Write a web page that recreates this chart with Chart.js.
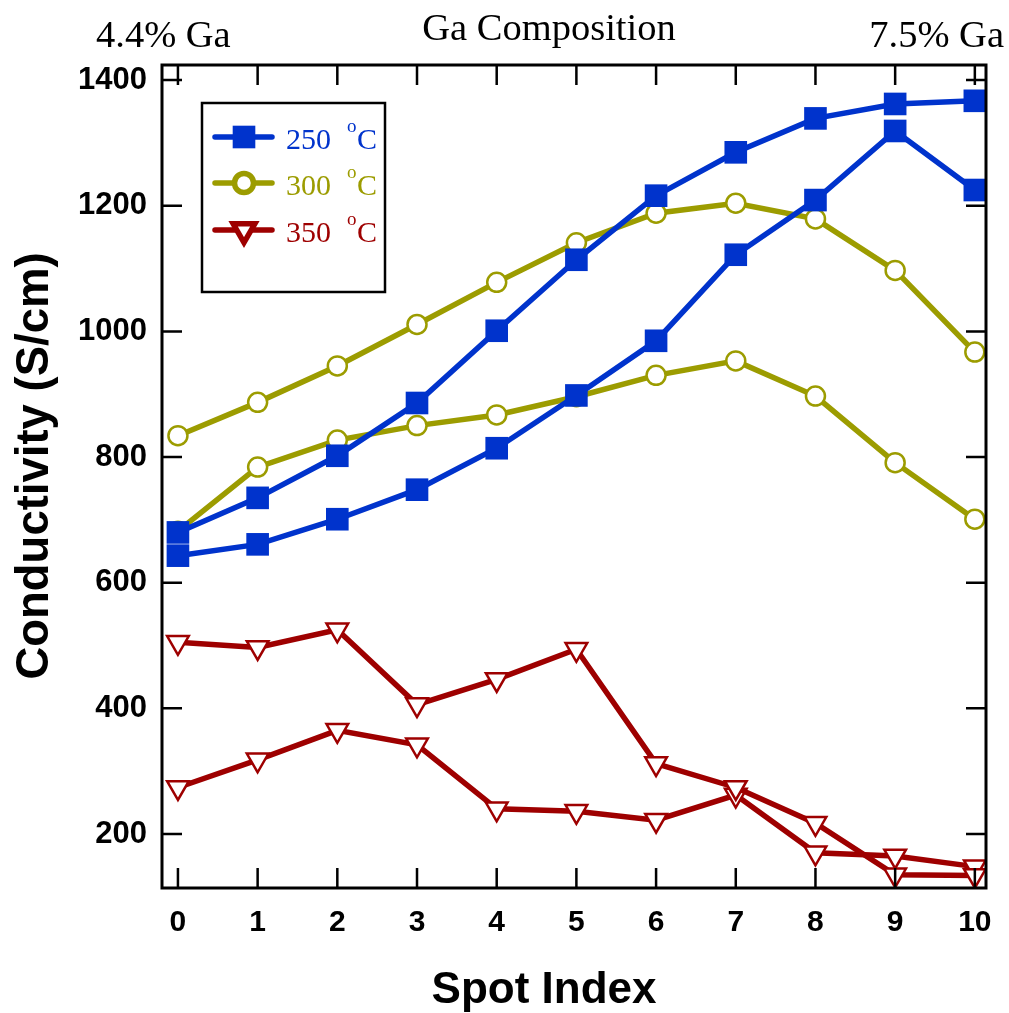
<!DOCTYPE html>
<html>
<head>
<meta charset="utf-8">
<script src="https://cdn.jsdelivr.net/npm/chart.js@4/dist/chart.umd.min.js"></script>
<style>
  html, body { margin: 0; padding: 0; background: #fff; }
  #wrap { width: 1009px; height: 1013px; position: relative; }
</style>
</head>
<body>
<div id="wrap"><canvas id="c" width="1009" height="1013"></canvas></div>
<script>
// ---- data ----
const spotIndex = [0, 1, 2, 3, 4, 5, 6, 7, 8, 9, 10];
const xTickValues = [0, 1, 2, 3, 4, 5, 6, 7, 8, 9, 10];
const yTickValues = [200, 400, 600, 800, 1000, 1200, 1400];
const temps = ['250', '300', '350'];
const cond250a = [680, 735, 802, 886, 1001, 1114, 1216, 1285, 1339, 1362, 1367];
const cond250b = [643, 661, 701, 748, 814, 898, 985, 1122, 1209, 1319, 1225];
const cond300a = [834, 887, 945, 1011, 1078, 1141, 1188, 1204, 1179, 1097, 967];
const cond300b = [682, 784, 827, 850, 867, 896, 930, 953, 897, 791, 701];
const cond350a = [505, 497, 525, 406, 446, 494, 312, 274, 217, 135, 134];
const cond350b = [274, 318, 365, 342, 240, 236, 222, 262, 170, 165, 148];
const xTitle = 'Spot Index';
const yTitle = 'Conductivity (S/cm)';
const topLabelLeft = '4.4% Ga';
const topLabelCenter = 'Ga Composition';
const topLabelRight = '7.5% Ga';

const BLUE = '#0033cc', OLIVE = '#9c9c00', RED = '#9e0000';
const SANS = '"Liberation Sans", Arial, sans-serif';
const SERIF = '"Liberation Serif", "Times New Roman", serif';

function pts(arr) { return arr.map((v, i) => ({ x: spotIndex[i], y: v })); }

const styles = [
  { color: BLUE, pointStyle: 'rect', radius: 16, fill: BLUE, rot: 0, bw: 0 },
  { color: OLIVE, pointStyle: 'circle', radius: 9.5, fill: '#ffffff', rot: 0, bw: 2.5 },
  { color: RED, pointStyle: 'triangle', radius: 12.5, fill: '#ffffff', rot: 180, bw: 2.5 }
];
const series = [[cond250a, cond250b], [cond300a, cond300b], [cond350a, cond350b]];

const datasets = [];
series.forEach((pair, ti) => {
  const s = styles[ti];
  pair.forEach((arr, k) => {
    datasets.push({
      label: temps[ti] + ' °C',
      data: pts(arr),
      borderColor: s.color,
      borderWidth: 5.5,
      backgroundColor: s.fill,
      pointStyle: s.pointStyle,
      pointRadius: s.radius,
      pointHoverRadius: s.radius,
      pointRotation: s.rot,
      pointBorderWidth: s.bw,
      pointBorderColor: s.color,
      pointBackgroundColor: s.fill,
      tension: 0,
      fill: false,
      legendEntry: k === 0
    });
  });
});

const framePlugin = {
  id: 'frame',
  afterDatasetsDraw(chart) {
    const ctx = chart.ctx;
    const a = chart.chartArea;
    const xs = chart.scales.x, ys = chart.scales.y;
    ctx.save();
    ctx.strokeStyle = '#000';
    // ticks (inward, mirrored)
    ctx.lineWidth = 2.5;
    const tl = 20;
    ctx.beginPath();
    xTickValues.forEach(v => {
      const px = xs.getPixelForValue(v);
      ctx.moveTo(px, a.bottom); ctx.lineTo(px, a.bottom - tl);
      ctx.moveTo(px, a.top); ctx.lineTo(px, a.top + tl);
    });
    yTickValues.forEach(v => {
      const py = ys.getPixelForValue(v);
      ctx.moveTo(a.left, py); ctx.lineTo(a.left + tl, py);
      ctx.moveTo(a.right, py); ctx.lineTo(a.right - tl, py);
    });
    ctx.stroke();
    // frame
    ctx.lineWidth = 3;
    ctx.strokeRect(a.left, a.top, a.right - a.left, a.bottom - a.top);

    // legend box
    const bx = a.left + 40, by = a.top + 38, bw = 183, bh = 189;
    ctx.lineWidth = 2.5;
    ctx.strokeRect(bx, by, bw, bh);
    const rowsY = [by + 34, by + 80, by + 127];
    const entries = chart.data.datasets.filter(d => d.legendEntry);
    entries.forEach((d, i) => {
      const y = rowsY[i];
      ctx.strokeStyle = d.borderColor;
      ctx.lineWidth = 5.5;
      ctx.lineCap = 'round';
      ctx.beginPath();
      ctx.moveTo(bx + 13, y); ctx.lineTo(bx + 70, y);
      ctx.stroke();
      ctx.lineCap = 'butt';
      ctx.fillStyle = d.pointBackgroundColor;
      Chart.helpers.drawPoint(ctx, {
        pointStyle: d.pointStyle, radius: d.pointRadius,
        rotation: d.pointRotation, borderWidth: d.pointBorderWidth
      }, bx + 42, y);
      if (d.pointBorderWidth > 0) { ctx.lineWidth = d.pointBorderWidth; ctx.stroke(); }
      ctx.fillStyle = d.borderColor;
      ctx.textBaseline = 'alphabetic';
      ctx.textAlign = 'left';
      ctx.font = '30px ' + SERIF;
      ctx.fillText(temps[i], bx + 84, y + 12);
      ctx.font = '19px ' + SERIF;
      ctx.fillText('o', bx + 145, y - 5);
      ctx.font = '30px ' + SERIF;
      ctx.fillText('C', bx + 155, y + 12);
    });

    // top labels
    ctx.fillStyle = '#000';
    ctx.font = '38.5px ' + SERIF;
    ctx.textBaseline = 'alphabetic';
    ctx.textAlign = 'left';
    ctx.fillText(topLabelLeft, 96, 47);
    ctx.textAlign = 'center';
    ctx.fillText(topLabelCenter, 549, 40);
    ctx.textAlign = 'right';
    ctx.fillText(topLabelRight, 1004, 47);

    // axis titles
    ctx.font = 'bold 44px ' + SANS;
    ctx.textAlign = 'center';
    ctx.fillText(xTitle, 544, 1003);
    ctx.save();
    ctx.translate(48, 466);
    ctx.rotate(-Math.PI / 2);
    ctx.font = 'bold 45.5px ' + SANS;
    ctx.fillText(yTitle, 0, 0);
    ctx.restore();
    ctx.restore();
  }
};

new Chart(document.getElementById('c'), {
  type: 'line',
  data: { datasets },
  options: {
    responsive: false,
    animation: false,
    events: [],
    layout: { padding: { top: 65, right: 23, left: 0, bottom: 0 } },
    plugins: { legend: { display: false }, tooltip: { enabled: false } },
    scales: {
      x: {
        type: 'linear',
        min: -0.2,
        max: 10.14,
        afterBuildTicks: s => { s.ticks = xTickValues.map(v => ({ value: v })); },
        afterFit: s => { s.height = 125; },
        grid: { display: false, drawTicks: false, tickLength: 0 },
        border: { display: false },
        ticks: {
          padding: 17,
          color: '#000',
          font: { family: SANS, size: 30, weight: 'bold' },
          maxRotation: 0,
          autoSkip: false,
          callback: v => String(v)
        },
        title: { display: false }
      },
      y: {
        type: 'linear',
        min: 114,
        max: 1424,
        afterBuildTicks: s => { s.ticks = yTickValues.map(v => ({ value: v })); },
        afterFit: s => { s.width = 162; },
        grid: { display: false, drawTicks: false, tickLength: 0 },
        border: { display: false },
        ticks: {
          padding: 15,
          color: '#000',
          font: { family: SANS, size: 31, weight: 'bold' },
          autoSkip: false,
          callback: v => String(v)
        },
        title: { display: false }
      }
    }
  },
  plugins: [framePlugin]
});
</script>
</body>
</html>
